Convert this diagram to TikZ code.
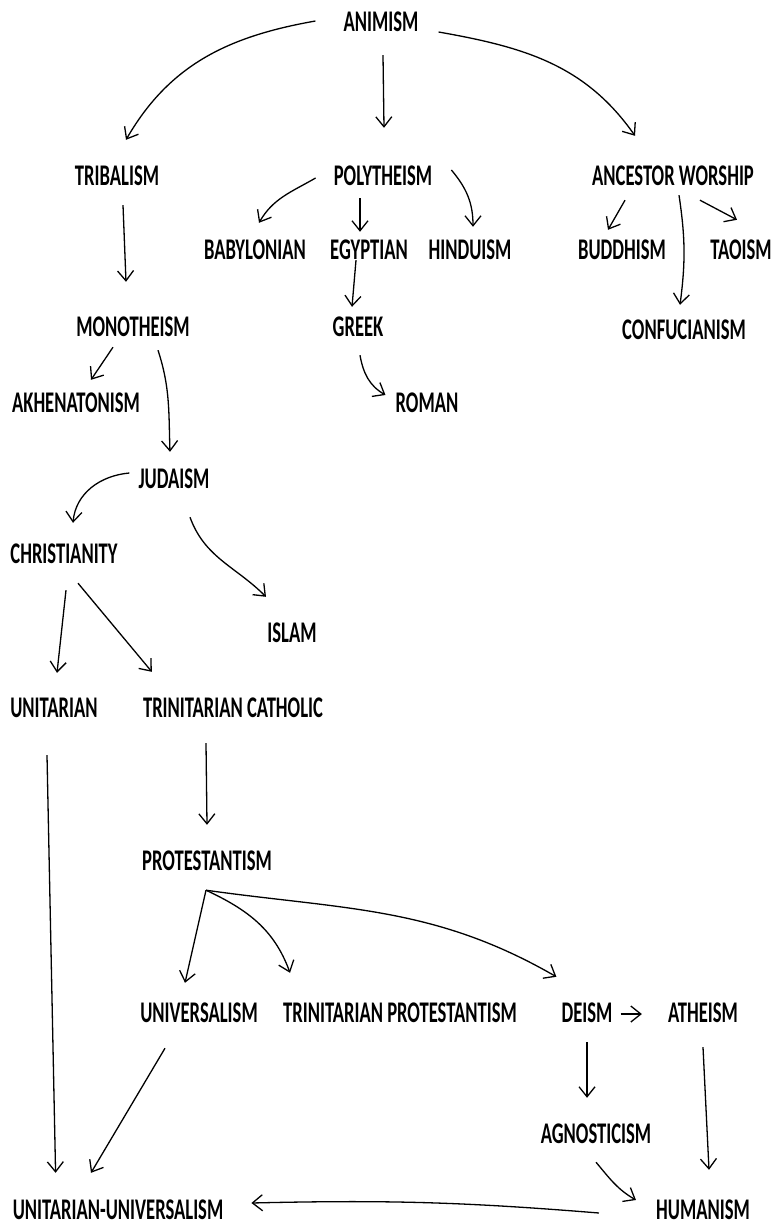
\documentclass[tikz,border=0pt]{standalone}
\usepackage{fontspec}
\setmainfont{Carlito}[FakeStretch=0.62]
\usetikzlibrary{arrows.meta,calc}

\begin{document}
\begin{tikzpicture}[x=1pt,y=-1pt]
  \tikzstyle{term}=[inner sep=0pt,text height=18pt,text depth=0pt,font=\fontsize{30}{32}\selectfont\bfseries]
  \tikzstyle{link}=[line width=1.3pt,-{Straight Barb[length=10pt,width=16pt]}]

  \useasboundingbox (0,0) rectangle (774,1228);

  % top of the tree
  \node [term] (animism) at (381,23) {ANIMISM};
  \node [term] (tribalism) at (117,176) {TRIBALISM};
  \node [term] (polytheism) at (383,176) {POLYTHEISM};
  \node [term] (ancestor) at (673,176) {ANCESTOR WORSHIP};

  \node [term] (babylonian) at (255,250) {BABYLONIAN};
  \node [term] (egyptian) at (369,250) {EGYPTIAN};
  \node [term] (hinduism) at (470,250) {HINDUISM};
  \node [term] (buddhism) at (622,250) {BUDDHISM};
  \node [term] (taoism) at (741,250) {TAOISM};

  \node [term] (monotheism) at (133,327) {MONOTHEISM};
  \node [term] (greek) at (358,327) {GREEK};
  \node [term] (confucianism) at (684,330) {CONFUCIANISM};
  \node [term] (akhenatonism) at (76,403) {AKHENATONISM};
  \node [term] (roman) at (427,403) {ROMAN};

  % monotheism branch
  \node [term] (judaism) at (174,479) {JUDAISM};
  \node [term] (christianity) at (64,554) {CHRISTIANITY};
  \node [term] (islam) at (292,633) {ISLAM};
  \node [term] (unitarian) at (54,708) {UNITARIAN};
  \node [term] (catholic) at (233,708) {TRINITARIAN CATHOLIC};
  \node [term] (protestantism) at (207,861) {PROTESTANTISM};

  \node [term] (universalism) at (199,1013) {UNIVERSALISM};
  \node [term] (trinprot) at (400,1013) {TRINITARIAN PROTESTANTISM};
  \node [term] (deism) at (587,1013) {DEISM};
  \node [term] (atheism) at (703,1013) {ATHEISM};
  \node [term] (agnosticism) at (596,1134) {AGNOSTICISM};
  \node [term] (unituniv) at (118,1210) {UNITARIAN-UNIVERSALISM};
  \node [term] (humanism) at (703,1210) {HUMANISM};

  % arrows
  \draw [link] ($(animism.west)+(-28,-2)$) to[out=190,in=60] ($(tribalism.north)+(9,-27)$);
  \draw [link] ($(animism.south)+(2,23)$) -- ($(polytheism.north)+(1,-39)$);
  \draw [link] ($(animism.east)+(20,9)$) to[out=-10,in=125] ($(ancestor.north)+(-38,-31)$);

  \draw [link] ($(polytheism.west)+(-18,2)$) to[out=210,in=60] ($(babylonian.north)+(4,-18)$);
  \draw [link] ($(polytheism.south)+(-23,13)$) -- ($(egyptian.north)+(-9,-9)$);
  \draw [link] ($(polytheism.east)+(19,-6)$) to[out=-50,in=90] ($(hinduism.north)+(3,-14)$);

  \draw [link] ($(ancestor.south)+(-48,15)$) -- ($(buddhism.north)+(-14,-11)$);
  \draw [link] ($(ancestor.south)+(6,10)$) to[bend left=8] ($(confucianism.north)+(-4,-16)$);
  \draw [link] ($(ancestor.south)+(27,15)$) -- ($(taoism.north)+(-4,-21)$);

  \draw [link] ($(tribalism.south)+(6,20)$) -- ($(monotheism.north)+(-7,-36)$);
  \draw [link] ($(egyptian.south)+(-13,1)$) -- ($(greek.north)+(-6,-11)$);
  \draw [link] ($(greek.south)+(2,19)$) to[out=-80,in=150] ($(roman.west)+(-10,-8)$);

  \draw [link] ($(monotheism.south)+(-20,11)$) -- ($(akhenatonism.north)+(15,-14)$);
  \draw [link] ($(monotheism.south)+(25,14)$) to[out=-72,in=92] ($(judaism.north)+(-4,-18)$);
  \draw [link] ($(judaism.west)+(-9,-6)$) to[out=185,in=85] ($(christianity.north)+(9,-22)$);
  \draw [link] ($(judaism.south)+(16,29)$) to[out=-70,in=135] ($(islam.north)+(-26,-27)$);

  \draw [link] ($(christianity.south)+(2,27)$) -- ($(unitarian.north)+(3,-26)$);
  \draw [link] ($(christianity.south)+(14,20)$) -- ($(catholic.north west)+(9,-27)$);
  \draw [link] ($(catholic.south)+(-27,26)$) -- ($(protestantism.north)+(0,-27)$);
  \draw [link] ($(unitarian.south)+(-7,38)$) -- ($(unituniv.north west)+(43,-28)$);

  \draw [link] ($(protestantism.south)+(-1,20)$) -- ($(universalism.north)+(-14,-21)$);
  \draw [link] ($(protestantism.south)+(-1,20)$) to[out=-25,in=110] ($(trinprot.north west)+(7,-31)$);
  \draw [link] ($(protestantism.south)+(-1,20)$) to[out=-8,in=150] ($(deism.north west)+(-5,-27)$);

  \draw [link] ($(deism.east)+(8,1)$) -- ($(atheism.west)+(-26,1)$);
  \draw [link] ($(deism.south)+(0,20)$) -- ($(agnosticism.north)+(-9,-27)$);
  \draw [link] ($(atheism.south)+(0,25)$) -- ($(humanism.north)+(6,-31)$);
  \draw [link] ($(agnosticism.south)+(0,19)$) to[out=-50,in=150] ($(humanism.west)+(-20,-10)$);
  \draw [link] ($(humanism.west)+(-57,3)$) to[bend right=3] ($(unituniv.east)+(28,-7)$);
  \draw [link] ($(universalism.south)+(-34,26)$) -- ($(unituniv.north)+(-27,-28)$);
\end{tikzpicture}
\end{document}
